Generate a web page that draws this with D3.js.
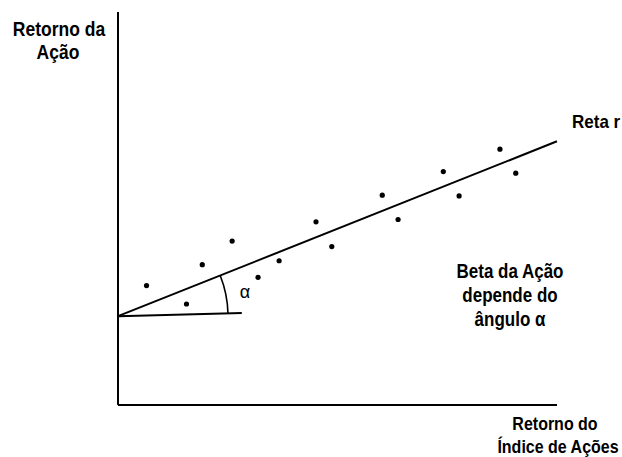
<!DOCTYPE html>
<html>
<head>
<meta charset="utf-8">
<script src="https://cdn.jsdelivr.net/npm/d3@7"></script>
<style>
  body { margin: 0; background: #fff; }
  text { font-family: "Liberation Sans", Arial, sans-serif; fill: #000; }
</style>
</head>
<body>
<div id="vis"></div>
<script>
'use strict'

// observed points (market return, stock return), arbitrary units 0..100
const market_x = [6.5, 15.6, 19.2, 26.0, 31.9, 36.7, 45.1, 48.7, 60.2, 63.8, 74.1, 77.7, 87.0, 90.6]
const stock_y  = [30.4, 25.7, 35.7, 41.7, 32.5, 36.7, 46.6, 40.3, 53.4, 47.2, 59.4, 53.2, 65.1, 59.0]

// fitted line and horizontal reference used for the angle
const reg_line = [[0, 22.6], [100, 67.1]]
const ref_line = [[0, 22.6], [28.2, 23.4]]

const y_title = ["Retorno da", "Ação"]
const x_title = ["Retorno do", "Índice de Ações"]
const note_lines = ["Beta da Ação", "depende do", "ângulo α"]
const line_label = "Reta r"

function wrapper(){
  let width = 622
  let height = 457

  let svg = d3.select("#vis").append("svg")
    .attr("width", width)
    .attr("height", height)

  let x = d3.scaleLinear().domain([0, 100]).range([118, 557])
  let y = d3.scaleLinear().domain([0, 100]).range([405, 12])

  // axes as plain lines (no ticks)
  svg.append("line")
    .attr("x1", x(0)).attr("y1", y(0))
    .attr("x2", x(0)).attr("y2", y(100))
    .attr("stroke", "#000").attr("stroke-width", 2)
  svg.append("line")
    .attr("x1", x(0)).attr("y1", y(0))
    .attr("x2", x(100)).attr("y2", y(0))
    .attr("stroke", "#000").attr("stroke-width", 2)

  let line = d3.line().x(d => x(d[0])).y(d => y(d[1]))

  svg.append("path").attr("d", line(reg_line))
    .attr("fill", "none").attr("stroke", "#000").attr("stroke-width", 2)
  svg.append("path").attr("d", line(ref_line))
    .attr("fill", "none").attr("stroke", "#000").attr("stroke-width", 2)

  // angle arc between the two lines
  let cx = x(reg_line[0][0]), cy = y(reg_line[0][1])
  let a_reg = Math.atan2(y(reg_line[1][1]) - cy, x(reg_line[1][0]) - cx)
  let a_ref = Math.atan2(y(ref_line[1][1]) - cy, x(ref_line[1][0]) - cx)
  let p = d3.path()
  p.arc(cx, cy, 110, a_ref, a_reg, true)
  svg.append("path").attr("d", p.toString())
    .attr("fill", "none").attr("stroke", "#000").attr("stroke-width", 1.6)

  svg.append("text")
    .attr("x", 245).attr("y", 298)
    .attr("text-anchor", "middle")
    .style("font-size", "18px")
    .text("α")

  // dots
  let pts = market_x.map((d, i) => [d, stock_y[i]])
  svg.append("g").selectAll("circle")
    .data(pts)
    .join("circle")
    .attr("cx", d => x(d[0]))
    .attr("cy", d => y(d[1]))
    .attr("r", 2.6)
    .attr("fill", "#000")

  function block(lines, cx_list, base, step, size){
    lines.forEach(function(t, i){
      svg.append("text")
        .attr("transform", "translate(" + cx_list[i] + "," + (base + i * step) + ") scale(1,1.15)")
        .attr("text-anchor", "middle")
        .style("font-size", size + "px")
        .style("font-weight", "bold")
        .text(t)
    })
  }

  block(y_title, [59, 58], 36, 23, 17.5)
  block(x_title, [555, 558], 430, 23, 16)
  block(note_lines, [510, 510, 510], 278, 24, 17)

  svg.append("text")
    .attr("transform", "translate(572,128) scale(1,1.1)")
    .style("font-size", "17px")
    .style("font-weight", "bold")
    .text(line_label)
}

wrapper()
</script>
</body>
</html>
